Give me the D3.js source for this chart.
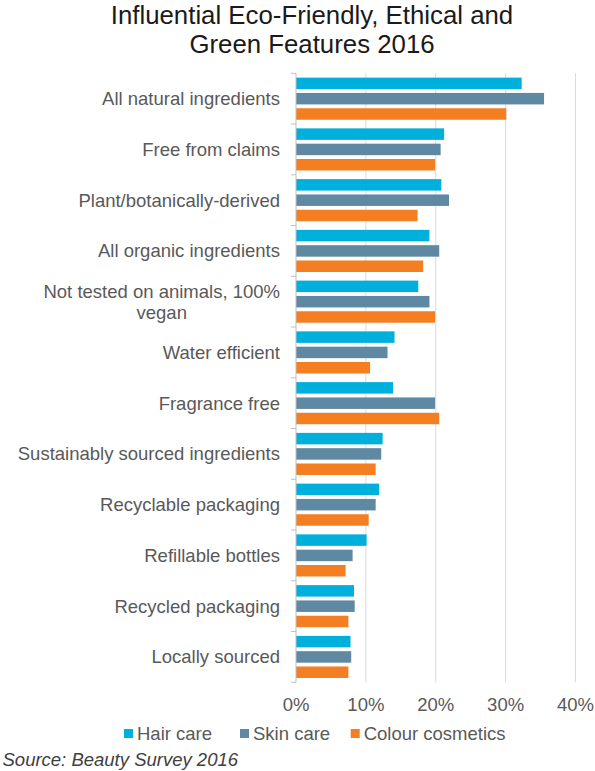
<!DOCTYPE html>
<html><head><meta charset="utf-8">
<script src="https://cdn.jsdelivr.net/npm/d3@7"></script>
<style>body{margin:0;background:#fff;}svg{display:block;font-family:"Liberation Sans",Arial,sans-serif;}</style>
</head><body>
<svg id="chart" width="595" height="771"></svg>
<script>
const categories = ["All natural ingredients","Free from claims","Plant/botanically-derived","All organic ingredients","Not tested on animals, 100% vegan","Water efficient","Fragrance free","Sustainably sourced ingredients","Recyclable packaging","Refillable bottles","Recycled packaging","Locally sourced"];
const categoryLines = [["All natural ingredients"],["Free from claims"],["Plant/botanically-derived"],["All organic ingredients"],["Not tested on animals, 100%","vegan"],["Water efficient"],["Fragrance free"],["Sustainably sourced ingredients"],["Recyclable packaging"],["Refillable bottles"],["Recycled packaging"],["Locally sourced"]];
const seriesNames = ["Hair care","Skin care","Colour cosmetics"];
const hairCare   = [32.3,21.2,20.8,19.1,17.5,14.1,13.9,12.4,11.9,10.1,8.3,7.8];
const skinCare   = [35.5,20.7,21.9,20.5,19.1,13.1,19.9,12.2,11.4,8.1,8.4,7.9];
const colourCos  = [30.1,19.9,17.4,18.2,19.9,10.6,20.5,11.4,10.4,7.1,7.5,7.5];
const xTicks = [0,10,20,30,40];
const colors = ["#00B0DC","#5F88A2","#F37F22"];
const titleLines = ["Influential Eco-Friendly, Ethical and","Green Features 2016"];
const sourceText = "Source: Beauty Survey 2016";

const series = [hairCare, skinCare, colourCos];
const svg = d3.select("#chart");
const mLeft = 296, mRight = 575.5, mTop = 73.3, mBottom = 682.3;
const fs = 18.5;

const x = d3.scaleLinear().domain([0,40]).range([mLeft,mRight]);
const y = d3.scaleBand().domain(categories).range([mTop,mBottom]).paddingInner(0.17).paddingOuter(0.085);
const yi = d3.scaleBand().domain(seriesNames).range([0,y.bandwidth()]).paddingInner(0.25).paddingOuter(0);

// title
svg.append("g").selectAll("text").data(titleLines).join("text")
  .attr("x",312).attr("y",(d,i)=>23.5+i*29.5)
  .attr("text-anchor","middle").attr("font-size",25.8).attr("fill","#1a1a1a").text(d=>d);

// gridlines
svg.append("g").selectAll("line").data(xTicks.slice(1)).join("line")
  .attr("x1",d=>x(d)).attr("x2",d=>x(d)).attr("y1",mTop).attr("y2",mBottom)
  .attr("stroke","#d9d9d9").attr("stroke-width",1);

// bars
const g = svg.append("g");
categories.forEach((c,ci)=>{
  series.forEach((s,si)=>{
    g.append("rect")
      .attr("x",x(0)).attr("y",y(c)+yi(seriesNames[si]))
      .attr("width",x(s[ci])-x(0)).attr("height",yi.bandwidth())
      .attr("fill",colors[si]);
  });
});

// y axis line & ticks
const step = y.step();
const tickYs = d3.range(categories.length+1).map(i=>mTop+i*step);
svg.append("line").attr("x1",mLeft).attr("x2",mLeft).attr("y1",mTop).attr("y2",mBottom).attr("stroke","#bfbfbf");
svg.append("g").selectAll("line").data(tickYs).join("line")
  .attr("x1",mLeft-5).attr("x2",mLeft).attr("y1",d=>d).attr("y2",d=>d).attr("stroke","#bfbfbf");

// category labels
const lg = svg.append("g").attr("font-size",fs).attr("fill","#595959");
categories.forEach((c,ci)=>{
  const lines = categoryLines[ci];
  const cy = y(c)+y.bandwidth()/2;
  if(lines.length===1){
    lg.append("text").attr("x",280).attr("y",cy).attr("dy","0.35em").attr("text-anchor","end").text(lines[0]);
  } else {
    const t = lg.append("text").attr("text-anchor","middle");
    const lh = 21;
    lines.forEach((l,li)=>{
      t.append("tspan").attr("x",0).attr("y",cy+(li-(lines.length-1)/2)*lh).attr("dy","0.35em").text(l);
    });
    const w = d3.max(t.selectAll("tspan").nodes(), n=>n.getComputedTextLength());
    t.selectAll("tspan").attr("x",280-w/2);
  }
});

// x axis labels
svg.append("g").attr("font-size",fs).attr("fill","#595959").selectAll("text").data(xTicks).join("text")
  .attr("x",d=>x(d)).attr("y",705).attr("dy","0.35em").attr("text-anchor","middle").text(d=>d+"%");

// legend
const legX = [124,240,350.7];
const leg = svg.append("g").attr("font-size",fs).attr("fill","#595959");
seriesNames.forEach((n,i)=>{
  leg.append("rect").attr("x",legX[i]).attr("y",729).attr("width",9).attr("height",9).attr("fill",colors[i]);
  leg.append("text").attr("x",legX[i]+13).attr("y",733.5).attr("dy","0.35em").text(n);
});

// source
svg.append("text").attr("x",2.5).attr("y",760).attr("dy","0.35em").attr("font-size",fs).attr("font-style","italic").attr("fill","#404040").text(sourceText);
</script>
</body></html>
